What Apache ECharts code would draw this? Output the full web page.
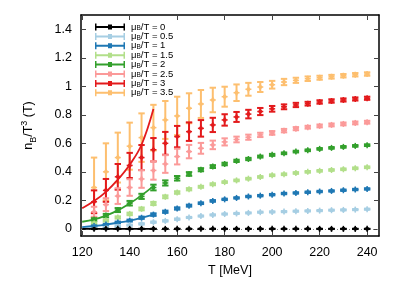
<!DOCTYPE html>
<html><head><meta charset="utf-8">
<script src="https://cdn.jsdelivr.net/npm/echarts@6/dist/echarts.min.js"></script>
<style>html,body{margin:0;padding:0;background:#fff}#c{width:407px;height:285px}</style>
</head><body><div id="c"></div>
<script>
// ---- data ----
const temps = [125,130,135,140,145,150,155,160,165,170,175,180,185,190,195,200,205,210,215,220,225,230,235,240];
const muLabels = ['0','0.5','1','1.5','2','2.5','3','3.5'];
const colors = ['#000000','#a6cee3','#1f78b4','#b2df8a','#33a02c','#fb9a99','#e31a1c','#fdbf6f'];

const val0  = [0,0,0,0,0,0,0,0,0,0,0,0,0,0,0,0,0,0,0,0,0,0,0,0];
const err0  = [0,0,0,0,0,0,0,0,0,0,0,0,0,0,0,0,0,0,0,0,0,0,0,0];
const val05 = [0.008,0.012,0.018,0.026,0.035,0.047,0.056,0.068,0.080,0.090,0.098,0.104,0.108,0.112,0.117,0.119,0.121,0.124,0.126,0.128,0.131,0.133,0.135,0.138];
const err05 = [0.003,0.003,0.004,0.004,0.005,0.005,0.005,0.005,0.004,0.004,0.004,0.004,0.004,0.004,0.004,0.004,0.004,0.004,0.004,0.004,0.004,0.004,0.004,0.004];
const val1  = [0.020,0.030,0.045,0.058,0.078,0.100,0.120,0.143,0.163,0.180,0.196,0.207,0.217,0.227,0.233,0.240,0.248,0.252,0.257,0.262,0.266,0.271,0.276,0.280];
const err1  = [0.004,0.005,0.006,0.007,0.008,0.009,0.008,0.008,0.007,0.006,0.006,0.005,0.005,0.005,0.005,0.005,0.005,0.005,0.005,0.005,0.005,0.005,0.005,0.005];
const val15 = [0.040,0.058,0.080,0.105,0.140,0.178,0.225,0.255,0.278,0.295,0.313,0.328,0.340,0.352,0.364,0.376,0.383,0.392,0.400,0.407,0.413,0.418,0.425,0.432];
const err15 = [0.006,0.007,0.008,0.009,0.010,0.011,0.010,0.009,0.008,0.007,0.007,0.006,0.006,0.006,0.006,0.006,0.006,0.006,0.006,0.006,0.006,0.006,0.006,0.006];
const val2  = [0.065,0.093,0.132,0.180,0.228,0.290,0.322,0.355,0.385,0.415,0.437,0.455,0.477,0.490,0.507,0.519,0.530,0.542,0.551,0.561,0.568,0.575,0.582,0.587];
const err2  = [0.010,0.012,0.014,0.016,0.018,0.020,0.018,0.016,0.013,0.011,0.010,0.009,0.008,0.008,0.007,0.007,0.006,0.006,0.006,0.006,0.006,0.006,0.006,0.006];
const val25 = [0.120,0.170,0.230,0.290,0.350,0.410,0.455,0.507,0.542,0.565,0.589,0.610,0.627,0.643,0.659,0.673,0.689,0.703,0.713,0.722,0.729,0.736,0.743,0.748];
const err25 = [0.035,0.045,0.055,0.058,0.062,0.065,0.062,0.055,0.047,0.038,0.030,0.025,0.020,0.018,0.015,0.013,0.012,0.011,0.010,0.010,0.010,0.010,0.010,0.010];
const val3  = [0.190,0.270,0.365,0.445,0.500,0.555,0.600,0.647,0.682,0.705,0.729,0.764,0.785,0.805,0.823,0.842,0.856,0.869,0.878,0.890,0.897,0.904,0.911,0.916];
const err3  = [0.080,0.080,0.090,0.088,0.088,0.082,0.080,0.075,0.065,0.058,0.050,0.040,0.035,0.030,0.025,0.020,0.017,0.015,0.013,0.012,0.012,0.011,0.011,0.011];
const val35 = [0.290,0.400,0.500,0.580,0.640,0.710,0.764,0.792,0.846,0.876,0.904,0.927,0.955,0.979,0.995,1.011,1.030,1.042,1.053,1.060,1.067,1.074,1.081,1.086];
const err35 = [0.210,0.200,0.175,0.165,0.170,0.160,0.133,0.135,0.105,0.098,0.086,0.070,0.058,0.045,0.035,0.027,0.022,0.018,0.016,0.014,0.013,0.012,0.012,0.012];

const fitTemps = [120,125,130,135,140,145,150];
const fit0 = [0,0,0,0,0,0,0];
const fit1 = [0.012,0.020,0.030,0.043,0.058,0.077,0.100];
const fit2 = [0.050,0.066,0.093,0.130,0.178,0.235,0.300];
const fit3 = [0.145,0.195,0.260,0.345,0.450,0.590,0.840];

const xTicks = [120,140,160,180,200,220,240];
const yTicks = [0,0.2,0.4,0.6,0.8,1,1.2,1.4];

// ---- build ----
const vals = [val0,val05,val1,val15,val2,val25,val3,val35];
const errs = [err0,err05,err1,err15,err2,err25,err3,err35];
const fits = [[0,fit0],[2,fit1],[4,fit2],[6,fit3]];

function renderErr(params, api){
  const x = api.value(0), y = api.value(1), e = api.value(2);
  const c = api.coord([x,y]), hi = api.coord([x,y+e]), lo = api.coord([x,y-e]);
  const color = api.visual('color');
  const hw = 3.2, lw = 2;
  return {type:'group', children:[
    {type:'line', shape:{x1:c[0],y1:hi[1],x2:c[0],y2:lo[1]}, style:{stroke:color,lineWidth:lw}},
    {type:'line', shape:{x1:c[0]-hw,y1:hi[1],x2:c[0]+hw,y2:hi[1]}, style:{stroke:color,lineWidth:lw}},
    {type:'line', shape:{x1:c[0]-hw,y1:lo[1],x2:c[0]+hw,y2:lo[1]}, style:{stroke:color,lineWidth:lw}},
    {type:'line', shape:{x1:c[0]-3,y1:c[1],x2:c[0]+3,y2:c[1]}, style:{stroke:color,lineWidth:1.5}},
    {type:'line', shape:{x1:c[0],y1:c[1]-3,x2:c[0],y2:c[1]+3}, style:{stroke:color,lineWidth:1.5}},
    {type:'circle', shape:{cx:c[0],cy:c[1],r:2}, style:{fill:color}}
  ]};
}

const series = [];
muLabels.forEach((m,i)=>{
  const s = {
    type:'custom', name:m, renderItem:renderErr, clip:true,
    itemStyle:{color:colors[i]},
    encode:{x:0,y:1},
    data: temps.map((t,k)=>[t, vals[i][k], errs[i][k]]),
    z: i===0 ? 12 : 11 - i
  };
  if(i===0){
    s.markLine = {silent:true, symbol:'none', label:{show:false},
      lineStyle:{color:'#888', type:[1,3], width:1},
      data:[{yAxis:0}]};
  }
  series.push(s);
});
fits.forEach(([ci,arr])=>{
  series.push({type:'line', name:muLabels[ci], data:fitTemps.map((t,k)=>[t,arr[k]]),
    smooth:0.4, showSymbol:false, symbol:'none', clip:true,
    lineStyle:{color:colors[ci], width:1.8}, itemStyle:{color:colors[ci]}, z:20});
});

const icon = 'path://M0,0H1.5V2.5H28.5V0H30V7H28.5V4.5H1.5V7H0Z M13,1H17V6H13Z';
const font = 'Liberation Sans, Arial, sans-serif';

const option = {
  animation:false,
  backgroundColor:'#fff',
  textStyle:{fontFamily:font},
  grid:{left:81, right:28, top:15, bottom:49, containLabel:false},
  legend:{
    orient:'vertical', left:90, top:17, itemWidth:30, itemHeight:7, itemGap:-0.6,
    data: muLabels.map(m=>({name:m, icon:icon})),
    selectedMode:false,
    formatter: n => '{m|\u03bc}{s|B}{m|/T = ' + n + '}',
    textStyle:{fontFamily:font, color:'#000', fontSize:9, lineHeight:10, padding:[0,0,0,1],
      rich:{m:{fontSize:9.5, lineHeight:10, fontFamily:font}, s:{fontSize:6.5, lineHeight:10, verticalAlign:'bottom', fontFamily:font}}}
  },
  xAxis:[{
    type:'value', min:119.5, max:245, position:'bottom',
    name:'T [MeV]', nameLocation:'middle', nameGap:25,
    nameTextStyle:{fontFamily:font, fontSize:12.5, color:'#000'},
    axisLine:{show:true, onZero:false, lineStyle:{color:'#000', width:1.5}},
    axisTick:{show:true, inside:true, length:5, customValues:xTicks, lineStyle:{color:'#444'}},
    axisLabel:{customValues:xTicks, fontFamily:font, fontSize:12.5, color:'#000', margin:10},
    splitLine:{show:false}
  },{
    type:'value', min:119.5, max:245, position:'top',
    axisLine:{show:true, onZero:false, lineStyle:{color:'#000', width:1.5}},
    axisTick:{show:true, inside:true, length:5, customValues:xTicks, lineStyle:{color:'#444'}},
    axisLabel:{show:false}, splitLine:{show:false}
  }],
  yAxis:[{
    type:'value', min:-0.05, max:1.5, position:'left',
    name:'n{sub|B}/T{sup|3} (T)', nameLocation:'middle', nameGap:43,
    nameTextStyle:{fontFamily:font, fontSize:12.5, color:'#000',
      rich:{sub:{fontSize:9, lineHeight:18, verticalAlign:'bottom', fontFamily:font, color:'#000'},
            sup:{fontSize:9, lineHeight:18, verticalAlign:'top', fontFamily:font, color:'#000'}}},
    axisLine:{show:true, onZero:false, lineStyle:{color:'#000', width:1.5}},
    axisTick:{show:true, inside:true, length:5, customValues:yTicks, lineStyle:{color:'#444'}},
    axisLabel:{customValues:yTicks, fontFamily:font, fontSize:12.5, color:'#000', margin:9},
    splitLine:{show:false}
  },{
    type:'value', min:-0.05, max:1.5, position:'right',
    axisLine:{show:true, onZero:false, lineStyle:{color:'#000', width:1.5}},
    axisTick:{show:true, inside:true, length:5, customValues:yTicks, lineStyle:{color:'#444'}},
    axisLabel:{show:false}, splitLine:{show:false}
  }],
  series: series
};
const chart = echarts.init(document.getElementById('c'), null, {renderer:'canvas'});
chart.setOption(option);
</script></body></html>
